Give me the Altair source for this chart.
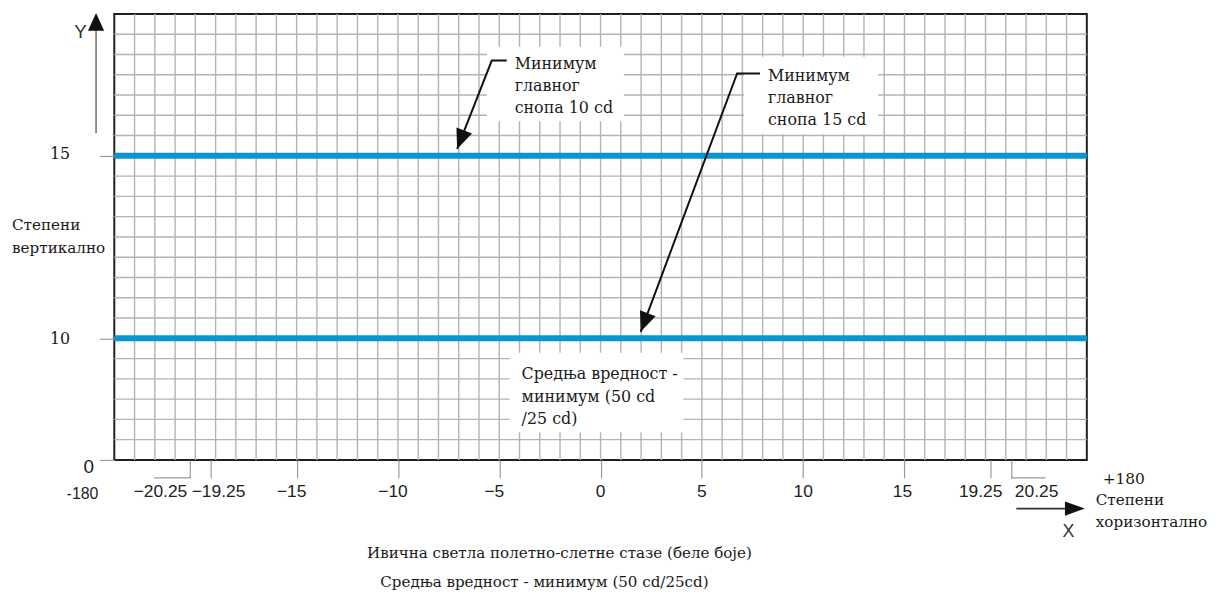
import altair as alt
import pandas as pd

# ---------------- data ----------------
x_tick_values = [-20.25, -19.25, -15, -10, -5, 0, 5, 10, 15, 19.25, 20.25]
x_tick_labels = [("\u2212" if v < 0 else "") + f"{abs(v):g}" for v in x_tick_values]
y_tick_values = [0, 10, 15]            # degrees vertical
limit_levels = [15, 10]                # the two blue limit lines
limit_start = [-24, -24]
limit_end = [24, 24]
x_extent = [-24, 24]                   # degrees horizontal shown
grid_degrees = list(range(-23, 24))    # 1-degree vertical grid lines
n_rows = 22
grid_rows = list(range(1, n_rows))     # horizontal grid lines

box1_lines = ["Минимум", "главног", "снопа  10 cd"]
box2_lines = ["Минимум", "главног", "снопа  15 cd"]
box3_lines = ["Средња вредност -", "минимум (50 cd", "/25 cd)"]
y_title_lines = ["Степени", "вертикално"]
x_title_lines = ["Степени", "хоризонтално"]
caption_line1 = "Ивична светла полетно-слетне стазе (беле боје)"
caption_line2 = "Средња вредност -  минимум (50 cd/25cd)"
x_end_label = "+180"
x_start_label = "-180"

# ---------------- layout / style ----------------
W, H = 979, 449
SERIF = "DejaVu Serif"
SANS = "Liberation Sans"
INK = "#1a1a1a"
GRID = "#b3b3b3"
TICK = "#9a9a9a"
BLUE = "#0a95d0"
row_px = H / n_rows
level_rows = [0, 6, 15]   # schematic grid rows where 0, 10 and 15 degrees sit

XS = alt.Scale(domain=x_extent, nice=False, zero=False)
RS = alt.Scale(domain=[0, n_rows], nice=False, zero=False)
YS = alt.Scale(domain=y_tick_values, range=[H - r * row_px for r in level_rows],
               nice=False, zero=False)

x_axis = alt.Axis(
    values=x_tick_values, title=None, grid=False, domain=False, labels=False,
    tickSize=18, tickColor=TICK, tickWidth=1.2,
)
y_axis = alt.Axis(
    values=y_tick_values, title=None, grid=False, domain=False,
    tickSize=15, tickColor=TICK, tickWidth=1.2,
    labelColor=INK, labelOverlap=False, labelFlush=False,
    labelFont={"condition": {"test": "datum.value == 0", "value": SANS}, "value": SERIF},
    labelFontSize={"condition": {"test": "datum.value == 0", "value": 19}, "value": 16},
    labelPadding={"condition": {"test": "datum.value == 0", "value": 6}, "value": 30},
    labelOffset={"condition": [{"test": "datum.value == 0", "value": 7},
                               {"test": "datum.value == 15", "value": -2}],
                 "value": 0},
)


def X(f):
    # every layer carries the same (shared) horizontal axis definition
    return alt.X(f, scale=XS, axis=x_axis)


def R(f):
    return alt.Y(f, scale=RS, axis=None)


grid_x = alt.Chart(pd.DataFrame({"x": grid_degrees})).mark_rule(
    color=GRID, strokeWidth=1.4).encode(x=X("x:Q"))
grid_y = alt.Chart(pd.DataFrame({"r": grid_rows})).mark_rule(
    color=GRID, strokeWidth=1.4).encode(y=R("r:Q"))

boxes = alt.Chart(pd.DataFrame({
    "x": [-5.61, 7.08, -4.49], "x2": [1.15, 13.70, 4.09],
    "r": [20.38, 19.89, 5.29], "r2": [16.71, 16.07, 1.37]})).mark_rect(
    fill="white").encode(x=X("x:Q"), x2="x2:Q", y=R("r:Q"), y2="r2:Q")

blue = alt.Chart(pd.DataFrame({"level": limit_levels, "start": limit_start,
                               "end": limit_end})).mark_rule(
    color=BLUE, strokeWidth=6, strokeCap="butt").encode(
    x=X("start:Q"), x2="end:Q",
    y=alt.Y("level:Q", scale=YS, axis=y_axis))

# tick labels of the horizontal axis (placed under their ticks)
tick_df = pd.DataFrame({"v": x_tick_values, "label": x_tick_labels})


def tick_labels(test, align="center", dx=0):
    return alt.Chart(tick_df).transform_filter(test).transform_calculate(
        yr="-1.81").mark_text(
        align=align, baseline="alphabetic", dx=dx, font=SANS, fontSize=17.5,
        color="#222").encode(x=X("v:Q"), y=R("yr:Q"), text="label:N")


x_labels = [
    tick_labels("datum.v >= 0 && datum.v < 15"),
    tick_labels("datum.v == 15", dx=-2),
    tick_labels("datum.v < 0 && datum.v > -19", dx=-5),
    tick_labels("datum.v == -19.25", dx=8),
    tick_labels("datum.v == 19.25", dx=-10),
    tick_labels("datum.v == -20.25", align="right", dx=-3),
    tick_labels("datum.v == 20.25", align="left", dx=4),
]

brackets = alt.Chart(pd.DataFrame({"x": [-22.04, 20.25], "x2": [-20.25, 21.95],
                                   "r": [-0.88, -0.88]})).mark_rule(
    color=TICK, strokeWidth=1.2).encode(x=X("x:Q"), x2="x2:Q", y=R("r:Q"))

arrows = alt.Chart(pd.DataFrame({
    "id": [1, 1, 1, 2, 2, 2], "i": [0, 1, 2, 0, 1, 2],
    "x": [-4.63, -5.37, -7.08, 7.87, 6.74, 1.98],
    "r": [19.70, 19.70, 15.34, 19.06, 19.06, 6.32]})).mark_line(
    color="#111", strokeWidth=2).encode(x=X("x:Q"), y=R("r:Q"), detail="id:N",
                                         order="i:Q")
heads = alt.Chart(pd.DataFrame({"x": [-7.08, 1.98], "r": [15.34, 6.32]})).mark_point(
    shape="M0,0L-0.42,-1L0.42,-1Z", filled=True, color="#111", opacity=1,
    size=1600, angle=21, strokeWidth=0).encode(x=X("x:Q"), y=R("r:Q"))

x_arrow = alt.Chart(pd.DataFrame({"x": [20.52, 23.4], "r": [-2.40, -2.40]})).mark_line(
    color="#333", strokeWidth=1.6).encode(x=X("x:Q"), y=R("r:Q"))
x_head = alt.Chart(pd.DataFrame({"x": [23.90], "r": [-2.40]})).mark_point(
    shape="M0,0L-1,-0.36L-1,0.36Z", filled=True, color="#111", opacity=1,
    size=1600, strokeWidth=0).encode(x=X("x:Q"), y=R("r:Q"))
y_arrow = alt.Chart(pd.DataFrame({"x": [-24.90, -24.90], "r": [16.12, 21.5]})).mark_line(
    color="#777", strokeWidth=1.6).encode(x=X("x:Q"), y=R("r:Q"))
y_head = alt.Chart(pd.DataFrame({"x": [-24.90], "r": [22.05]})).mark_point(
    shape="M0,0L-0.45,1L0.45,1Z", filled=True, color="#111", opacity=1,
    size=1296, strokeWidth=0).encode(x=X("x:Q"), y=R("r:Q"))


def text_at(lines, x, r, align="left", font=SERIF, size=16, color=INK,
            lh=22, baseline="alphabetic"):
    return alt.Chart(pd.DataFrame({"x": [x], "r": [r]})).mark_text(
        align=align, baseline=baseline, font=font, fontSize=size, color=color,
        lineHeight=lh).encode(x=X("x:Q"), y=R("r:Q"), text=alt.value(lines))


texts = [
    text_at(box1_lines, -4.24, 19.26),
    text_at(box2_lines, 8.26, 18.67),
    text_at(box3_lines, -3.90, 3.97, lh=22.5),
    text_at(y_title_lines, -29.05, 11.32, size=15.3, lh=23),
    text_at(x_title_lines, 24.44, -2.24, size=15.3, lh=21.5),
    text_at(x_end_label, 24.78, -1.18, size=15.5),
    text_at(x_start_label, -25.57, -1.91, align="center", font=SANS, size=16,
            color="#222"),
    text_at(caption_line1, -2.03, -4.85, align="center", size=15.2),
    text_at(caption_line2, -2.77, -6.27, align="center", size=15.2),
    text_at("Y", -25.67, 21.12, align="center", font=SANS, size=19,
            color="#333", baseline="middle"),
    text_at("X", 23.09, -3.55, align="center", font=SANS, size=18,
            color="#333", baseline="middle"),
]

chart = alt.layer(
    grid_x, grid_y, boxes, blue, brackets, arrows, heads,
    x_arrow, x_head, y_arrow, y_head, *x_labels, *texts
).resolve_scale(y="independent").properties(
    width=W, height=H, autosize="none",
    padding={"left": 107, "top": 4, "right": 125, "bottom": 135},
).configure_view(stroke="#231f20", strokeWidth=2)

chart.save("out.html", embed_options={"renderer": "svg", "actions": False})
